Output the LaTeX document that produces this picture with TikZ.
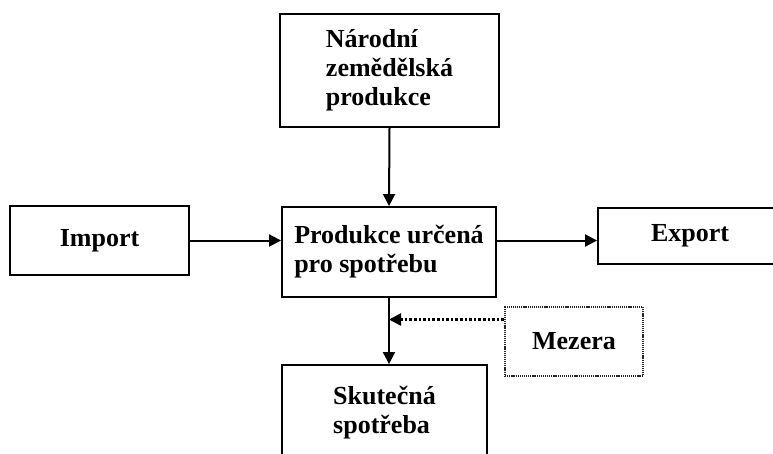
\documentclass[tikz,border=0pt]{standalone}
\usepackage{fontspec}
\setmainfont{Liberation Serif}
\usetikzlibrary{arrows.meta,positioning,calc}
\begin{document}
\begin{tikzpicture}[x=1pt,y=-1pt,
  box/.style={draw,line width=1.9pt,inner sep=0pt,align=left,
    font=\fontsize{26}{29}\selectfont\bfseries},
  gapbox/.style={box,draw=black!85,line width=2pt,dash pattern=on 1.2pt off 0.9pt},
  flow/.style={line width=2pt,-{Triangle[length=12pt,width=12pt]}}
]
  \useasboundingbox (0,0) rectangle (773,453);
  \clip (0,0) rectangle (773,453);
  % boxes
  \node[box,minimum width=219pt,minimum height=113pt] (narodni) at (389.5,70.5) {Národní\\zemědělská\\produkce};
  \node[box,minimum width=179pt,minimum height=69pt] (import) at (99.5,240.5) {Import};
  \node[box,minimum width=214pt,minimum height=90pt] (urcena) at (389,252) {Produkce určená\\pro spotřebu};
  \node[box,minimum width=184pt,minimum height=56pt] (export) at (690,236) {Export};
  \node[box,minimum width=205pt,minimum height=95pt] (skutecna) at (384.5,412.5) {Skutečná\\spotřeba};
  \node[gapbox,minimum width=138pt,minimum height=69pt] (mezera) at (574,341.5) {Mezera};
  % flows
  \draw[flow] (narodni.south) -- (urcena.north);
  \draw[flow] (import.east) -- (import.east -| urcena.west);
  \draw[flow] (import.east -| urcena.east) -- (import.east -| export.west);
  \draw[flow] (urcena.south) -- (urcena.south |- skutecna.north);
  % gap
  \coordinate (mz) at ($(mezera.north west)!0.19!(mezera.south west)$);
  \draw[flow,line width=2.6pt,dash pattern=on 2.6pt off 2pt] (mz) -- (mz -| urcena.south);
\end{tikzpicture}
\end{document}
